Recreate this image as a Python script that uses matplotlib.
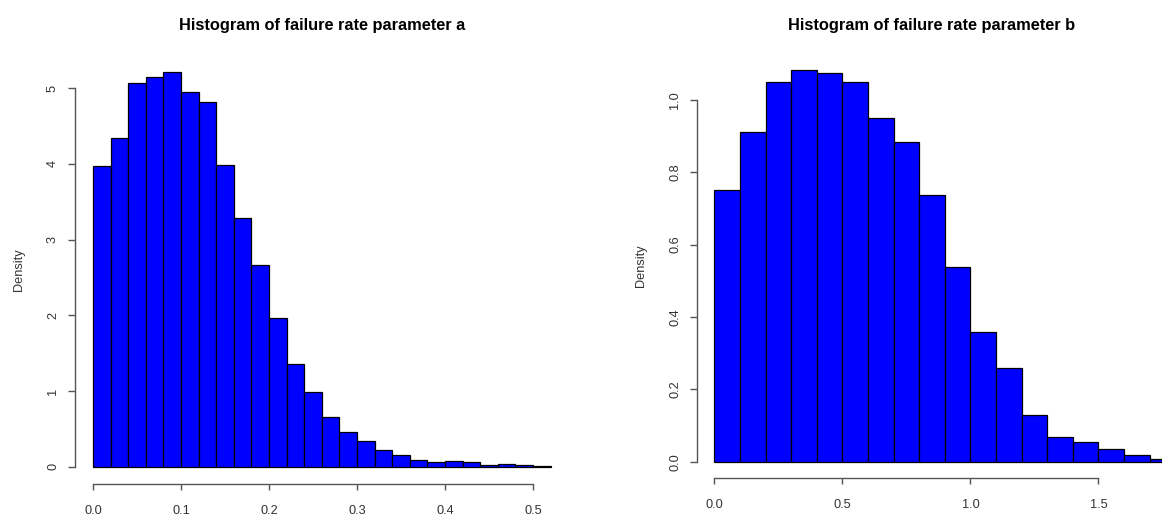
import numpy as np
import matplotlib
matplotlib.use('Agg')
import matplotlib.pyplot as plt

plt.rcParams['font.family'] = ['Liberation Sans', 'DejaVu Sans']

# parameter a: bins of width 0.02 from 0.00 to 0.52
a_left = np.round(np.arange(0, 0.52, 0.02), 2)
a_density = [3.97, 4.34, 5.07, 5.15, 5.21, 4.95, 4.82, 3.98, 3.28, 2.66,
             1.97, 1.35, 0.98, 0.66, 0.46, 0.34, 0.22, 0.15, 0.09, 0.065,
             0.078, 0.068, 0.02, 0.035, 0.022, 0.008]
a_xticks = [0.0, 0.1, 0.2, 0.3, 0.4, 0.5]
a_yticks = [0, 1, 2, 3, 4, 5]

# parameter b: bins of width 0.1 from 0.0 to 1.8
b_left = np.round(np.arange(0, 1.8, 0.1), 1)
b_density = [0.751, 0.911, 1.051, 1.083, 1.075, 1.051, 0.949, 0.884, 0.737,
             0.539, 0.358, 0.258, 0.128, 0.069, 0.054, 0.036, 0.0195, 0.0085]
b_xticks = [0.0, 0.5, 1.0, 1.5]
b_yticks = [0.0, 0.2, 0.4, 0.6, 0.8, 1.0]

W, H = 1162, 518
fig = plt.figure(figsize=(W / 100, H / 100), dpi=100)

axis_col = '#555555'
text_col = '#333333'
fs_tick = 9.2


def px_axes(x0, x1, ytop, ybot):
    return fig.add_axes([x0 / W, (H - ybot) / H, (x1 - x0) / W, (ybot - ytop) / H])


def r_style(ax, xb, yb, xticks, yticks, xfmt, yfmt):
    for s in ['top', 'right']:
        ax.spines[s].set_visible(False)
    ax.spines['bottom'].set_bounds(*xb)
    ax.spines['left'].set_bounds(*yb)
    for s in ['bottom', 'left']:
        ax.spines[s].set_color(axis_col)
        ax.spines[s].set_linewidth(1.0)
    ax.set_xticks(xticks)
    ax.set_xticklabels([xfmt.format(v) for v in xticks])
    ax.set_yticks(yticks)
    ax.set_yticklabels([yfmt.format(v) for v in yticks], rotation=90, va='center')
    ax.tick_params(axis='both', direction='out', width=1.0,
                   color=axis_col, labelcolor=text_col, labelsize=fs_tick)
    ax.tick_params(axis='x', length=4.5, pad=11)
    ax.tick_params(axis='y', length=5.3, pad=6)
    ax.patch.set_alpha(0)


# left panel
ax1 = px_axes(74.7, 569, 56.4, 483.5)
ax1.bar(a_left, a_density, width=0.02, align='edge', color='#0000ff',
        edgecolor='black', linewidth=0.9)
ax1.set_xlim(-0.0208, 0.5408)
ax1.set_ylim(-0.2220, 5.418)
r_style(ax1, (0, 0.5), (0, 5), a_xticks, a_yticks, '{:.1f}', '{:d}')
ax1.set_title('Histogram of failure rate parameter a', fontsize=11.8,
              fontweight='bold', pad=19)
fig.text(18.6 / W, 1 - 270 / H, 'Density', rotation=90, ha='center',
         va='center', fontsize=fs_tick, color=text_col)

# right panel
ax2 = px_axes(697, 1167, 54.3, 477.6)
ax2.bar(b_left, b_density, width=0.1, align='edge', color='#0000ff',
        edgecolor='black', linewidth=0.9)
ax2.set_xlim(-0.068, 1.768)
ax2.set_ylim(-0.0439, 1.1263)
r_style(ax2, (0, 1.5), (0, 1.0), b_xticks, b_yticks, '{:.1f}', '{:.1f}')
ax2.set_title('Histogram of failure rate parameter b', fontsize=11.8,
              fontweight='bold', pad=17.5)
fig.text(641 / W, 1 - 266 / H, 'Density', rotation=90, ha='center',
         va='center', fontsize=fs_tick, color=text_col)

fig.savefig('out.png', dpi=100)
